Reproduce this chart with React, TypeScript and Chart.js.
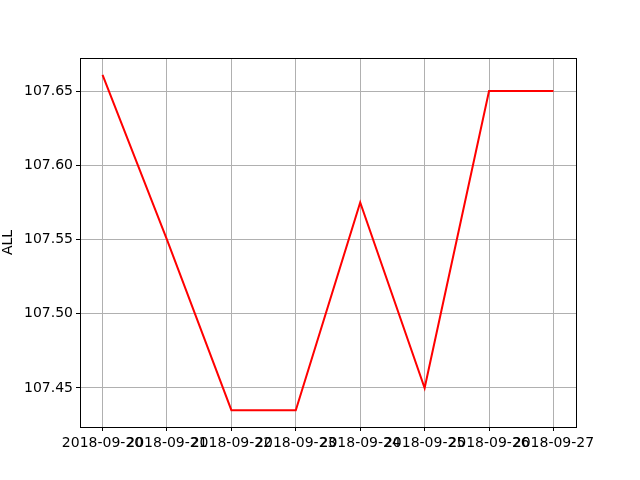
import { useEffect, useRef } from "react";
import { Chart, registerables } from "chart.js";

Chart.register(...registerables);

const dates = [
  "2018-09-20",
  "2018-09-21",
  "2018-09-22",
  "2018-09-23",
  "2018-09-24",
  "2018-09-25",
  "2018-09-26",
  "2018-09-27",
];
const rates = [107.661, 107.55, 107.435, 107.435, 107.575, 107.45, 107.65, 107.65];
const yTicks = [107.45, 107.5, 107.55, 107.6, 107.65];

const frame = {
  id: "frame",
  afterDatasetsDraw(chart: any) {
    const { ctx, chartArea } = chart;
    ctx.save();
    ctx.strokeStyle = "#000";
    ctx.lineWidth = 1;
    ctx.strokeRect(
      Math.round(chartArea.left) + 0.5,
      Math.round(chartArea.top) + 0.5,
      Math.round(chartArea.right - chartArea.left),
      Math.round(chartArea.bottom - chartArea.top)
    );
    ctx.restore();
  },
};

export default function App() {
  const canvasRef = useRef<HTMLCanvasElement | null>(null);

  useEffect(() => {
    document.body.style.margin = "0";
    const canvas = canvasRef.current;
    if (!canvas) return;

    const font = { family: "DejaVu Sans", size: 14 };

    const chart = new Chart(canvas, {
      type: "line",
      data: {
        datasets: [
          {
            data: rates.map((v, i) => ({ x: i, y: v })),
            borderColor: "#ff0000",
            borderWidth: 2,
            pointRadius: 0,
            tension: 0,
            fill: false,
          },
        ],
      },
      options: {
        animation: false,
        responsive: false,
        devicePixelRatio: 1,
        layout: { padding: { top: 58, right: 64, left: 0, bottom: 0 } },
        plugins: { legend: { display: false }, tooltip: { enabled: false } },
        scales: {
          x: {
            type: "linear",
            min: -0.35,
            max: dates.length - 1 + 0.35,
            afterBuildTicks: (s: any) => {
              s.ticks = dates.map((_, i) => ({ value: i }));
            },
            afterFit: (s: any) => {
              s.height = 53;
            },
            ticks: {
              autoSkip: false,
              maxRotation: 0,
              color: "#000",
              font,
              padding: 4,
              callback: (v: any) => dates[v] ?? "",
            },
            grid: { color: "#b0b0b0", lineWidth: 1, tickColor: "#000", tickLength: 4 },
            border: { display: false },
          },
          y: {
            min: 107.4237,
            max: 107.6723,
            afterBuildTicks: (s: any) => {
              s.ticks = yTicks.map((v) => ({ value: v }));
            },
            afterFit: (s: any) => {
              s.width = 80;
            },
            title: { display: true, text: "ALL", color: "#000", font, padding: 0 },
            ticks: {
              color: "#000",
              font,
              padding: 3,
              callback: (v: any) => Number(v).toFixed(2),
            },
            grid: { color: "#b0b0b0", lineWidth: 1, tickColor: "#000", tickLength: 4 },
            border: { display: false },
          },
        },
      },
      plugins: [frame],
    });

    return () => {
      chart.destroy();
    };
  }, []);

  return <canvas ref={canvasRef} width={640} height={480} style={{ display: "block" }} />;
}
